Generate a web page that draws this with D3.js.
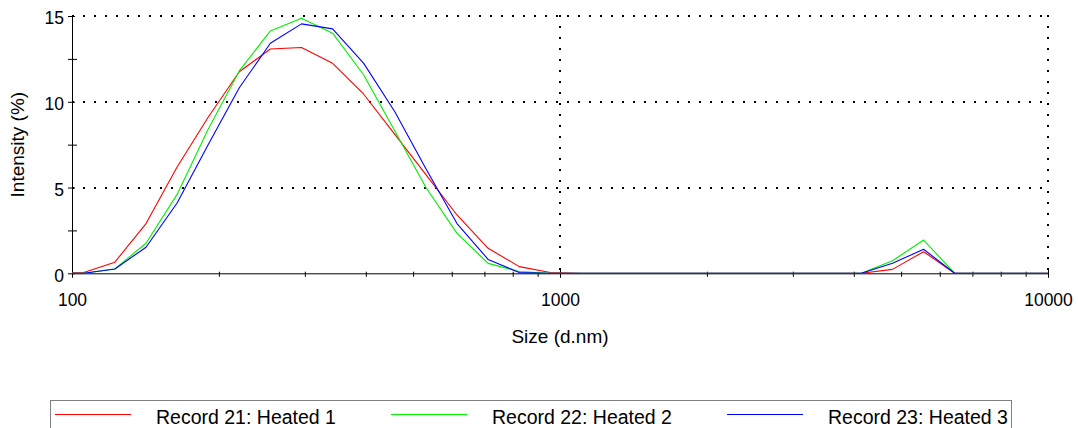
<!DOCTYPE html>
<html>
<head>
<meta charset="utf-8">
<script src="https://cdn.jsdelivr.net/npm/d3@7/dist/d3.min.js"></script>
<style>
  html, body { margin: 0; padding: 0; background: #fff; }
  svg { display: block; font-family: "Liberation Sans", Arial, sans-serif; }
</style>
</head>
<body>
<svg id="chart" width="1078" height="428"></svg>
<script>
// Size classes (d.nm)
const sizes = [91.28, 105.7, 122.4, 141.8, 164.2, 190.1, 220.2, 255.0, 295.3, 342.0,
  396.1, 458.7, 531.2, 615.1, 712.4, 825.0, 955.4, 1106, 1281, 1484, 1718, 1990,
  2305, 2669, 3091, 3580, 4145, 4801, 5560, 6439, 7456, 8635, 10000];

// Intensity (%) per series
const record21 = [0, 0.05, 0.65, 2.9, 6.2, 9.1, 11.75, 13.08, 13.16, 12.24,
  10.44, 8.1, 5.75, 3.4, 1.46, 0.39, 0.05, 0, 0, 0, 0, 0,
  0, 0, 0, 0, 0, 0.23, 1.26, 0, 0, 0, 0];
const record22 = [0, 0, 0.25, 1.75, 4.6, 8.4, 11.8, 14.13, 14.87, 14.0,
  11.56, 8.3, 5.0, 2.33, 0.58, 0.1, 0, 0, 0, 0, 0, 0,
  0, 0, 0, 0, 0, 0.73, 1.94, 0, 0, 0, 0];
const record23 = [0, 0, 0.25, 1.52, 4.1, 7.5, 10.82, 13.41, 14.54, 14.25,
  12.24, 9.42, 6.1, 2.9, 0.81, 0.04, 0, 0, 0, 0, 0, 0,
  0, 0, 0, 0, 0, 0.58, 1.40, 0, 0, 0, 0];

const seriesNames = ["Record 21: Heated 1", "Record 22: Heated 2", "Record 23: Heated 3"];
const seriesColors = ["#ff0000", "#00ee00", "#0000ff"];
const seriesValues = [record21, record22, record23];

const xMajorTicks = [100, 1000, 10000];
const xMinorTicks = [200, 300, 400, 500, 600, 700, 800, 900,
  2000, 3000, 4000, 5000, 6000, 7000, 8000, 9000];
const yMajorTicks = [0, 5, 10, 15];
const yMinorTicks = [2.5, 7.5, 12.5];
const yGrid = [5, 10, 15];
const xGrid = [1000, 10000];

(function () {
const svg = d3.select("#chart");
const pL = 72, pR = 1048, pT = 16, pB = 273.3;

const x = d3.scaleLog().domain([100, 10000]).range([pL, pR]);
const y = d3.scaleLinear().domain([0, 15]).range([pB, pT]);

// dotted grid
const grid = svg.append("g");
grid.selectAll("line.h").data(yGrid).join("line")
  .attr("x1", pL).attr("x2", pR + 1)
  .attr("y1", d => Math.round(y(d))).attr("y2", d => Math.round(y(d)))
  .attr("stroke", "#000").attr("stroke-width", 2)
  .attr("stroke-dasharray", "2 9");
grid.selectAll("line.v").data(xGrid).join("line")
  .attr("x1", d => Math.round(x(d))).attr("x2", d => Math.round(x(d)))
  .attr("y1", pT - 1).attr("y2", pB)
  .attr("stroke", "#000").attr("stroke-width", 2)
  .attr("stroke-dasharray", "2 9");

// x axis
const xAxisG = svg.append("g").attr("transform", `translate(0,${pB})`);
xAxisG.call(d3.axisBottom(x).tickValues(xMajorTicks).tickSize(4.5)
  .tickFormat(d3.format("d")).tickSizeOuter(0));
xAxisG.select(".domain").attr("stroke", "#000").attr("d", `M${pL},0.5H${pR}`);
xAxisG.selectAll(".tick line").attr("y1", -5).attr("y2", 4.5).attr("stroke", "#000");
xAxisG.selectAll(".tick text").attr("y", 0).attr("dy", 0)
  .attr("transform", "translate(0,33)")
  .style("font-size", "17.5px").attr("fill", "#000");
const xMinorG = svg.append("g").attr("transform", `translate(0,${pB})`);
xMinorG.call(d3.axisBottom(x).tickValues(xMinorTicks).tickSize(3.5)
  .tickFormat("").tickSizeOuter(0));
xMinorG.select(".domain").remove();
xMinorG.selectAll(".tick line").attr("y1", -1.6).attr("stroke", "#000");

// y axis
const yAxisG = svg.append("g").attr("transform", `translate(${pL},0)`);
yAxisG.call(d3.axisLeft(y).tickValues(yMajorTicks).tickSize(4).tickSizeOuter(0));
yAxisG.select(".domain").attr("stroke", "#000").attr("d", `M0.5,${pT}V${pB + 0.5}`);
yAxisG.selectAll(".tick line").attr("x1", 3).attr("x2", -4).attr("stroke", "#000");
yAxisG.selectAll(".tick text").attr("x", -8).attr("dy", "0.45em")
  .style("font-size", "17.5px").attr("fill", "#000");
const yMinorG = svg.append("g").attr("transform", `translate(${pL},0)`);
yMinorG.call(d3.axisLeft(y).tickValues(yMinorTicks).tickSize(4).tickFormat("").tickSizeOuter(0));
yMinorG.select(".domain").remove();
yMinorG.selectAll(".tick line").attr("x1", 5).attr("x2", -4).attr("stroke", "#000");

// axis titles
svg.append("text")
  .attr("transform", `translate(24,${(pT + pB) / 2}) rotate(-90)`)
  .attr("text-anchor", "middle").style("font-size", "19px").attr("fill", "#000")
  .text("Intensity (%)");
svg.append("text")
  .attr("x", (pL + pR) / 2).attr("y", 343)
  .attr("text-anchor", "middle").style("font-size", "19px").attr("fill", "#000")
  .text("Size (d.nm)");

// lines
svg.append("clipPath").attr("id", "plotclip").append("rect")
  .attr("x", pL).attr("y", 0).attr("width", pR - pL + 1).attr("height", pB + 3);
const line = d3.line().x((d, i) => x(sizes[i])).y(d => y(d));
const linesG = svg.append("g").attr("clip-path", "url(#plotclip)");
seriesValues.forEach((vals, k) => {
  linesG.append("path").datum(vals)
    .attr("d", line)
    .attr("fill", "none")
    .attr("stroke", seriesColors[k])
    .attr("stroke-width", 1.1)
    .attr("stroke-linejoin", "round");
});

// legend
const legend = svg.append("g");
legend.append("rect")
  .attr("x", 50.5).attr("y", 400.5).attr("width", 961).attr("height", 40)
  .attr("fill", "none").attr("stroke", "#808080").attr("stroke-width", 1);
const legendTextX = [156, 492, 828];
seriesNames.forEach((name, k) => {
  const tx = legendTextX[k];
  legend.append("line")
    .attr("x1", tx - 101).attr("x2", tx - 25)
    .attr("y1", 414.5).attr("y2", 414.5)
    .attr("stroke", seriesColors[k]).attr("stroke-width", 1);
  legend.append("text")
    .attr("x", tx).attr("y", 424)
    .style("font-size", "19.5px").attr("fill", "#000")
    .text(name);
});
})();
</script>
</body>
</html>
